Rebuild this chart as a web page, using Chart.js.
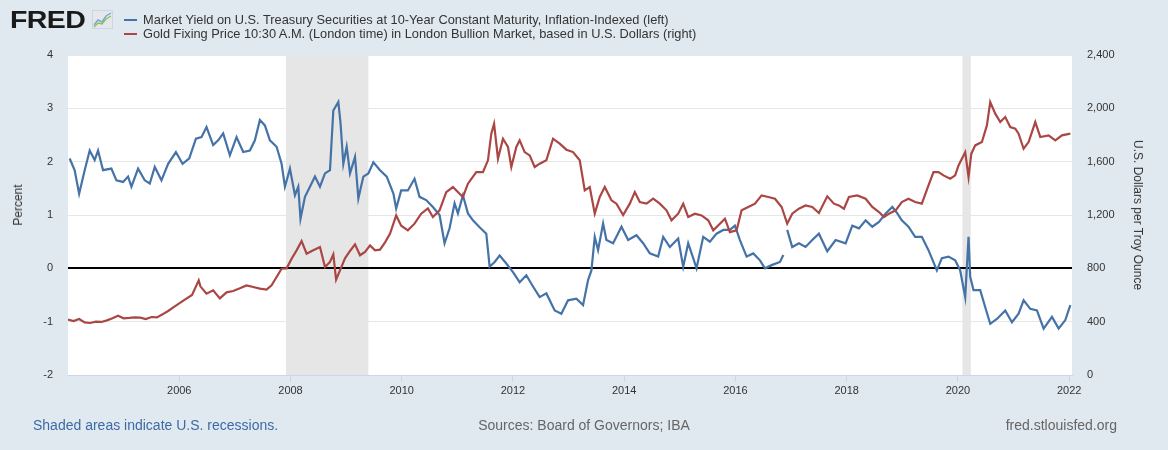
<!DOCTYPE html>
<html><head><meta charset="utf-8">
<script src="https://cdn.jsdelivr.net/npm/chart.js@4.4.0/dist/chart.umd.min.js"></script>
<style>
html,body{margin:0;padding:0;background:#e1e9f0;}
#wrap{position:relative;width:1168px;height:450px;background:#e1e9f0;font-family:"Liberation Sans",Arial,sans-serif;overflow:hidden;}
canvas{position:absolute;left:0;top:0;}
.t{position:absolute;white-space:nowrap;}
.leg{font-size:12.8px;color:#333;line-height:15px;}
.mk{position:absolute;left:-19px;top:7px;width:13px;height:2px;}
</style></head><body>
<div id="wrap">
<canvas id="c" width="1168" height="450"></canvas>
<div class="t" style="left:10px;top:7px;font-size:23px;line-height:26px;font-weight:bold;color:#1a1a1a;transform:scaleX(1.24);transform-origin:left top;letter-spacing:-0.5px;">FRED</div>
<svg class="t" style="left:92px;top:10px" width="21" height="19" viewBox="0 0 21 19">
<rect x="0.5" y="0.5" width="20" height="18" fill="#e4e8ec" stroke="#cfd5da"/>
<polyline points="2,15 6,10 10,12 14,6 19,3" fill="none" stroke="#7aa7cf" stroke-width="1.4"/>
<polyline points="2,17 6,13 10,14 14,9 19,6" fill="none" stroke="#8fbf5a" stroke-width="1.4"/>
</svg>
<div class="t leg" style="left:143px;top:12px"><span class="mk" style="background:#4572a7"></span>Market Yield on U.S. Treasury Securities at 10-Year Constant Maturity, Inflation-Indexed (left)</div>
<div class="t leg" style="left:143px;top:26px"><span class="mk" style="background:#aa4643"></span>Gold Fixing Price 10:30 A.M. (London time) in London Bullion Market, based in U.S. Dollars (right)</div>
<div class="t" style="left:18px;top:205px;font-size:12px;color:#333;transform:translate(-50%,-50%) rotate(-90deg);">Percent</div>
<div class="t" style="left:1138px;top:215px;font-size:12px;color:#333;transform:translate(-50%,-50%) rotate(90deg);">U.S. Dollars per Troy Ounce</div>
<div class="t" style="left:33px;top:417px;font-size:14px;color:#3d6aa5;">Shaded areas indicate U.S. recessions.</div>
<div class="t" style="left:584px;top:417px;font-size:14px;color:#666;transform:translateX(-50%);">Sources: Board of Governors; IBA</div>
<div class="t" style="right:51px;top:417px;font-size:14px;color:#666;">fred.stlouisfed.org</div>
</div>
<script>
// ---- data (dates in decimal years) ----
const yieldDates = [2004.03,2004.12,2004.20,2004.30,2004.39,2004.48,2004.54,2004.63,2004.78,2004.87,2004.99,2005.08,2005.14,2005.26,2005.38,2005.47,2005.56,2005.68,2005.80,2005.94,2006.06,2006.18,2006.30,2006.40,2006.49,2006.61,2006.70,2006.79,2006.91,2007.03,2007.15,2007.27,2007.36,2007.45,2007.54,2007.63,2007.75,2007.84,2007.90,2007.99,2008.08,2008.14,2008.18,2008.26,2008.35,2008.44,2008.53,2008.62,2008.71,2008.77,2008.86,2008.90,2008.95,2009.01,2009.07,2009.16,2009.22,2009.31,2009.40,2009.49,2009.61,2009.73,2009.85,2009.90,2009.99,2010.11,2010.23,2010.32,2010.44,2010.56,2010.68,2010.77,2010.86,2010.95,2011.01,2011.10,2011.19,2011.28,2011.40,2011.52,2011.58,2011.67,2011.76,2011.88,2012.00,2012.12,2012.24,2012.36,2012.48,2012.60,2012.75,2012.87,2012.99,2013.14,2013.26,2013.35,2013.41,2013.47,2013.53,2013.62,2013.68,2013.80,2013.95,2014.07,2014.22,2014.34,2014.46,2014.61,2014.70,2014.82,2014.97,2015.06,2015.15,2015.24,2015.30,2015.42,2015.54,2015.66,2015.78,2015.90,2015.99,2016.08,2016.20,2016.32,2016.44,2016.53,2016.65,2016.80,2016.86,2016.90,2016.93,2017.02,2017.14,2017.26,2017.38,2017.50,2017.65,2017.80,2017.98,2018.10,2018.22,2018.34,2018.46,2018.58,2018.70,2018.82,2018.91,2018.99,2019.11,2019.23,2019.35,2019.47,2019.62,2019.71,2019.83,2019.95,2020.04,2020.13,2020.19,2020.22,2020.28,2020.40,2020.49,2020.58,2020.70,2020.85,2020.97,2021.09,2021.18,2021.30,2021.42,2021.54,2021.69,2021.81,2021.93,2022.02];
const yieldValues = [2.06,1.84,1.40,1.84,2.21,2.03,2.21,1.84,1.87,1.65,1.62,1.72,1.53,1.87,1.65,1.59,1.90,1.65,1.96,2.18,1.96,2.06,2.43,2.46,2.65,2.31,2.40,2.53,2.12,2.46,2.18,2.21,2.40,2.78,2.68,2.40,2.28,1.96,1.53,1.87,1.37,1.53,0.93,1.34,1.53,1.72,1.53,1.78,1.84,2.96,3.12,2.72,1.96,2.28,1.78,2.09,1.31,1.72,1.78,1.99,1.84,1.72,1.40,1.12,1.46,1.46,1.68,1.34,1.28,1.15,1.00,0.47,0.75,1.22,1.03,1.37,1.03,0.90,0.77,0.65,0.03,0.12,0.24,0.09,-0.07,-0.26,-0.13,-0.34,-0.54,-0.47,-0.79,-0.85,-0.60,-0.57,-0.69,-0.22,-0.04,0.59,0.34,0.84,0.53,0.47,0.78,0.53,0.62,0.47,0.28,0.22,0.59,0.40,0.56,0.03,0.47,0.19,0.00,0.59,0.50,0.65,0.72,0.72,0.80,0.53,0.22,0.28,0.15,0.00,0.06,0.12,0.25,null,0.72,0.40,0.47,0.40,0.53,0.65,0.32,0.53,0.47,0.80,0.75,0.90,0.78,0.87,1.03,1.15,1.03,0.90,0.78,0.59,0.59,0.34,-0.04,0.19,0.22,0.15,-0.04,-0.54,0.59,-0.16,-0.41,-0.41,-0.73,-1.04,-0.95,-0.79,-1.01,-0.85,-0.60,-0.76,-0.79,-1.13,-0.91,-1.13,-0.97,-0.69];

const goldDates = [2004.00,2004.10,2004.20,2004.30,2004.40,2004.50,2004.60,2004.70,2004.80,2004.90,2005.00,2005.10,2005.20,2005.30,2005.40,2005.50,2005.60,2005.70,2005.80,2005.94,2006.08,2006.23,2006.35,2006.38,2006.49,2006.61,2006.73,2006.85,2006.97,2007.09,2007.21,2007.33,2007.45,2007.57,2007.66,2007.75,2007.84,2007.93,2008.02,2008.11,2008.20,2008.29,2008.41,2008.53,2008.62,2008.71,2008.77,2008.82,2008.89,2008.98,2009.07,2009.16,2009.25,2009.34,2009.43,2009.52,2009.61,2009.70,2009.79,2009.90,2009.99,2010.11,2010.23,2010.35,2010.47,2010.56,2010.68,2010.80,2010.92,2011.04,2011.10,2011.19,2011.34,2011.46,2011.55,2011.61,2011.66,2011.73,2011.82,2011.91,2011.97,2012.06,2012.12,2012.21,2012.30,2012.39,2012.48,2012.60,2012.72,2012.84,2012.96,2013.08,2013.20,2013.29,2013.38,2013.47,2013.56,2013.65,2013.77,2013.86,2013.98,2014.10,2014.19,2014.28,2014.40,2014.52,2014.64,2014.76,2014.85,2014.97,2015.06,2015.15,2015.27,2015.39,2015.51,2015.60,2015.72,2015.81,2015.90,2016.02,2016.11,2016.23,2016.35,2016.47,2016.59,2016.71,2016.83,2016.93,2017.02,2017.14,2017.26,2017.38,2017.50,2017.65,2017.77,2017.86,2017.95,2018.04,2018.19,2018.34,2018.46,2018.58,2018.67,2018.76,2018.88,2018.99,2019.11,2019.23,2019.35,2019.47,2019.56,2019.65,2019.74,2019.86,2019.95,2020.01,2020.13,2020.19,2020.24,2020.31,2020.43,2020.52,2020.58,2020.67,2020.76,2020.85,2020.94,2021.03,2021.09,2021.18,2021.27,2021.39,2021.48,2021.63,2021.75,2021.87,2022.02];
const goldValues = [415,405,420,395,390,400,398,410,425,445,425,428,432,430,420,435,432,455,480,520,560,600,710,665,610,635,575,620,630,650,672,660,648,640,672,735,797,800,872,935,1005,910,935,960,810,848,905,715,785,875,930,980,898,923,972,935,940,995,1060,1197,1120,1085,1135,1210,1250,1185,1235,1372,1410,1360,1335,1435,1522,1522,1610,1810,1885,1622,1772,1710,1560,1710,1760,1672,1647,1560,1585,1610,1772,1735,1690,1672,1610,1385,1410,1210,1335,1410,1310,1285,1200,1285,1372,1297,1285,1322,1285,1235,1160,1210,1285,1185,1210,1197,1160,1085,1135,1172,1072,1085,1235,1260,1285,1347,1335,1322,1260,1135,1210,1247,1272,1260,1215,1340,1285,1272,1247,1335,1347,1322,1260,1222,1185,1210,1235,1297,1322,1297,1285,1422,1522,1522,1497,1472,1497,1572,1672,1485,1660,1722,1747,1872,2047,1960,1897,1935,1860,1847,1810,1697,1747,1897,1785,1797,1760,1797,1810];

const recessionStarts = [2007.92, 2020.08];
const recessionEnds   = [2009.40, 2020.23];
const xTickYears = [2006,2008,2010,2012,2014,2016,2018,2020,2022];
const leftTicks = [-2,-1,0,1,2,3,4];
const rightTicks = [0,400,800,1200,1600,2000,2400];

// ---- chart ----
Chart.defaults.font.family = "'Liberation Sans', Arial, sans-serif";
Chart.defaults.font.size = 11;
Chart.defaults.color = '#333';

const bgPlugin = {
  id: 'bg',
  beforeDraw(chart) {
    const {ctx, chartArea: a} = chart;
    ctx.save();
    ctx.fillStyle = '#ffffff';
    ctx.fillRect(a.left, a.top, a.right - a.left, a.bottom - a.top);
    ctx.restore();
  },
  beforeDatasetsDraw(chart) {
    const {ctx, chartArea: a, scales} = chart;
    ctx.save();
    ctx.fillStyle = '#e6e6e6';
    for (let i = 0; i < recessionStarts.length; i++) {
      const x1 = scales.x.getPixelForValue(recessionStarts[i]);
      const x2 = scales.x.getPixelForValue(recessionEnds[i]);
      ctx.fillRect(x1, a.top, x2 - x1, a.bottom - a.top);
    }
    const y0 = Math.round(scales.y.getPixelForValue(0));
    ctx.strokeStyle = '#000';
    ctx.lineWidth = 2;
    ctx.beginPath();
    ctx.moveTo(a.left, y0);
    ctx.lineTo(a.right, y0);
    ctx.stroke();
    ctx.restore();
  }
};

new Chart(document.getElementById('c'), {
  type: 'line',
  data: {
    datasets: [
      {
        label: 'Gold',
        data: goldDates.map((d, i) => ({x: d, y: goldValues[i]})),
        yAxisID: 'y2',
        borderColor: '#aa4643',
        borderWidth: 2.2,
        pointRadius: 0,
        tension: 0,
        order: 0
      },
      {
        label: 'Yield',
        data: yieldDates.map((d, i) => ({x: d, y: yieldValues[i]})),
        yAxisID: 'y',
        borderColor: '#4572a7',
        borderWidth: 2.2,
        pointRadius: 0,
        tension: 0,
        spanGaps: false,
        order: 1
      }
    ]
  },
  options: {
    responsive: false,
    devicePixelRatio: 1,
    animation: false,
    layout: {padding: {top: 55, left: 0, right: 0, bottom: 0}},
    plugins: {legend: {display: false}, tooltip: {enabled: false}},
    scales: {
      x: {
        type: 'linear',
        min: 2004.0,
        max: 2022.05,
        afterBuildTicks(s) { s.ticks = xTickYears.map(v => ({value: v})); },
        afterFit(s) { s.height = 75; },
        ticks: {padding: 2, maxRotation: 0, autoSkip: false, callback: v => String(v), color: '#333'},
        grid: {drawOnChartArea: false, drawTicks: true, tickLength: 7, color: '#ccd6eb'},
        border: {display: true, color: '#ccd6eb', width: 1}
      },
      y: {
        position: 'left',
        min: -2, max: 4,
        afterBuildTicks(s) { s.ticks = leftTicks.map(v => ({value: v})); },
        afterFit(s) { s.width = 68; },
        ticks: {padding: 15, color: '#333'},
        grid: {color: ctx => (ctx.tick && ctx.tick.value === 0) ? 'rgba(0,0,0,0)' : '#e6e6e6', drawTicks: false, lineWidth: 1},
        border: {display: false}
      },
      y2: {
        position: 'right',
        min: 0, max: 2400,
        afterBuildTicks(s) { s.ticks = rightTicks.map(v => ({value: v})); },
        afterFit(s) { s.width = 96; },
        ticks: {padding: 15, color: '#333', callback: v => v.toLocaleString('en-US')},
        grid: {drawOnChartArea: false, drawTicks: false},
        border: {display: false}
      }
    }
  },
  plugins: [bgPlugin]
});
</script>
</body></html>
